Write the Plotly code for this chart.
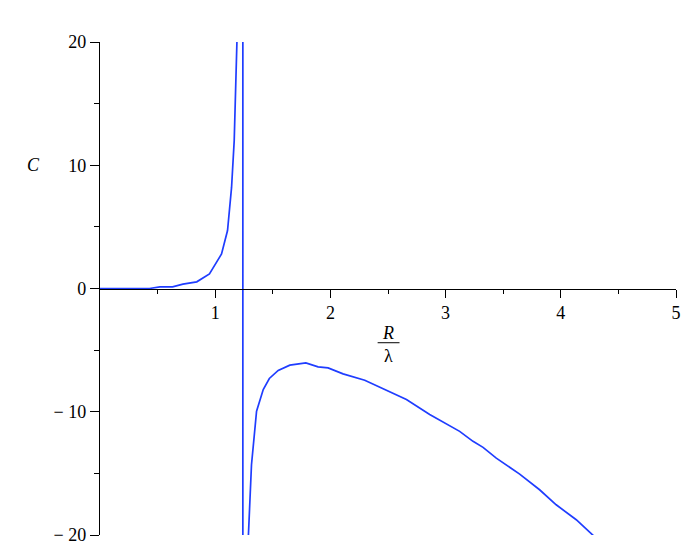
import plotly.graph_objects as go

# Left branch of C(R/lambda)
x_left = [0, 0.43, 0.52, 0.63, 0.72, 0.84, 0.95, 1.055, 1.107, 1.142, 1.165, 1.18, 1.19]
y_left = [0, 0, 0.13, 0.13, 0.35, 0.54, 1.18, 2.8, 4.7, 8.2, 12, 16.6, 20.5]

# Pole (vertical asymptote drawn by the plotter)
x_pole = [1.24, 1.24]
y_pole = [10000, -10000]

# Right branch
x_right = [1.287, 1.30, 1.315, 1.359, 1.417, 1.47, 1.547, 1.648, 1.787, 1.893, 1.98, 2.11,
           2.298, 2.66, 2.862, 3.122, 3.238, 3.325, 3.44, 3.643, 3.816, 3.96, 4.134, 4.307]
y_right = [-20.3, -17.3, -14.3, -9.96, -8.2, -7.3, -6.65, -6.22, -6.03, -6.36, -6.44, -6.93,
           -7.44, -9.0, -10.23, -11.59, -12.4, -12.89, -13.76, -15.06, -16.33, -17.55, -18.76, -20.26]

x_ticks = [1, 2, 3, 4, 5]
x_minor = [0.5, 1.5, 2.5, 3.5, 4.5]
y_ticks = [-20, -10, 0, 10, 20]
y_ticktext = ["\u2212 20", "\u2212 10", "0", "10", "20"]
y_minor = [-15, -5, 5, 15]

xs = x_left + x_pole + x_right
ys = y_left + y_pole + y_right

blue = "#1f3dff"
font = dict(family="Liberation Serif", size=18, color="black")

fig = go.Figure()
fig.add_trace(go.Scatter(x=xs, y=ys, mode="lines",
                         line=dict(color=blue, width=1.7), hoverinfo="skip",
                         showlegend=False))

fig.update_layout(
    width=692, height=554,
    margin=dict(l=92, r=24, t=34, b=27),
    paper_bgcolor="white", plot_bgcolor="white",
    font=font,
    xaxis=dict(range=[0, 5], anchor="free", position=0.5,
               showgrid=False, zeroline=False,
               showline=True, linecolor="black", linewidth=1.3,
               tickmode="array", tickvals=x_ticks,
               ticks="outside", ticklen=8, tickwidth=1.3, tickcolor="black",
               minor=dict(tickvals=x_minor, ticks="outside", ticklen=4,
                          tickwidth=1.3, tickcolor="black"),
               tickfont=font),
    yaxis=dict(range=[-20, 20], showgrid=False, zeroline=False,
               showline=True, linecolor="black", linewidth=1.3,
               tickmode="array", tickvals=y_ticks, ticktext=y_ticktext,
               ticks="outside", ticklen=9, tickwidth=1.3, tickcolor="black",
               minor=dict(tickvals=y_minor, ticks="outside", ticklen=5,
                          tickwidth=1.3, tickcolor="black"),
               tickfont=font),
)

# Axis labels
fig.add_annotation(x=-0.13, xref="paper", y=10, yref="y", text="<i>C</i>",
                   showarrow=False, font=font)
fig.add_annotation(x=2.5, y=-3.6, text="<i>R</i>", showarrow=False, font=font)
fig.add_annotation(x=2.5, y=-5.5, text="λ", showarrow=False, font=font)
fig.add_shape(type="line", x0=2.41, x1=2.6, y0=-4.4, y1=-4.4,
              line=dict(color="black", width=1))

fig.write_html("out.html")
